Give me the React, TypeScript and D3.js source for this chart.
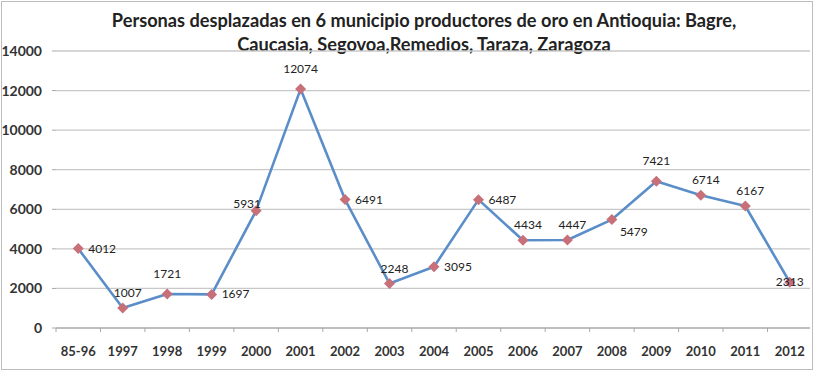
import * as d3 from "d3";

const years = ["85-96", "1997", "1998", "1999", "2000", "2001", "2002", "2003", "2004", "2005", "2006", "2007", "2008", "2009", "2010", "2011", "2012"];
const displaced = [4012, 1007, 1721, 1697, 5931, 12074, 6491, 2248, 3095, 6487, 4434, 4447, 5479, 7421, 6714, 6167, 2313];
// where each data label sits relative to its point
const labelSpots = ["right", "aboveRight", "above", "right", "aboveLeft", "above", "right", "aboveRight", "right", "right", "aboveRight", "aboveRight", "belowRight", "above", "aboveRight", "aboveRight", "center"];
const yTicks = [0, 2000, 4000, 6000, 8000, 10000, 12000, 14000];
const titleLines = [
  "Personas desplazadas en 6 municipio productores de oro en Antioquia: Bagre,",
  "Caucasia, Segovoa,Remedios, Taraza, Zaragoza",
];

const width = 815;
const height = 372;
const marginLeft = 56;
const marginRight = 3;
const marginTop = 51;
const marginBottom = 44;

const offsets: Record<string, [number, number, string]> = {
  right: [10, 4, "start"],
  aboveRight: [5, -11, "middle"],
  above: [0, -16, "middle"],
  aboveLeft: [-9, -3, "middle"],
  belowRight: [8, 16, "start"],
  center: [0, 4, "middle"],
};

export default function App() {
  const x = d3
    .scalePoint<string>()
    .domain(years)
    .range([marginLeft, width - marginRight])
    .padding(0.5);
  const y = d3.scaleLinear([0, 14000], [height - marginBottom, marginTop]);
  const step = x.step();

  const line = d3
    .line<number>()
    .x((d, i) => x(years[i])!)
    .y((d) => y(d));

  const font = "Lato, 'Open Sans', sans-serif";

  return (
    <svg
      width={width}
      height={height}
      style={{ position: "absolute", left: 0, top: 0, background: "#fff" }}
      fontFamily={font}
    >
      <rect x={1.5} y={1.5} width={width - 4} height={height - 4} fill="#fff" stroke="#bdbdbd" />
      {titleLines.map((t, i) => (
        <text key={i} x={424} y={27 + i * 24} textAnchor="middle" fontSize={18.2} fontWeight="bold" fill="#222">
          {t}
        </text>
      ))}
      {yTicks.map((t) => (
        <g key={t}>
          <line
            x1={marginLeft}
            x2={width - marginRight - 2}
            y1={y(t)}
            y2={y(t)}
            stroke={t === 0 ? "#a8a8a8" : "#c8c8c8"}
            strokeWidth={1.3}
          />
          <line x1={marginLeft - 4} x2={marginLeft} y1={y(t)} y2={y(t)} stroke="#a8a8a8" />
          <text x={42} y={y(t) + 5} textAnchor="end" fontSize={14} fontWeight="bold" fill="#333">
            {t}
          </text>
        </g>
      ))}
      {years.map((yr, i) => (
        <g key={yr}>
          <line
            x1={x(yr)! - step / 2}
            x2={x(yr)! - step / 2}
            y1={y(0)}
            y2={y(0) + 4}
            stroke="#a8a8a8"
          />
          <text x={x(yr)} y={y(0) + 28} textAnchor="middle" fontSize={13} fontWeight="bold" fill="#333">
            {yr}
          </text>
        </g>
      ))}
      <path d={line(displaced)!} fill="none" stroke="#5b8ec8" strokeWidth={2.6} strokeLinejoin="round" />
      {displaced.map((v, i) => {
        const cx = x(years[i])!;
        const cy = y(v);
        return (
          <path
            key={i}
            d={`M${cx},${cy - 5.5}L${cx + 5.5},${cy}L${cx},${cy + 5.5}L${cx - 5.5},${cy}Z`}
            fill="#c8707a"
          />
        );
      })}
      {displaced.map((v, i) => {
        const [dx, dy, anchor] = offsets[labelSpots[i]];
        return (
          <text
            key={i}
            x={x(years[i])! + dx}
            y={y(v) + dy}
            textAnchor={anchor}
            fontSize={12}
            fill="#222"
          >
            {v}
          </text>
        );
      })}
    </svg>
  );
}
